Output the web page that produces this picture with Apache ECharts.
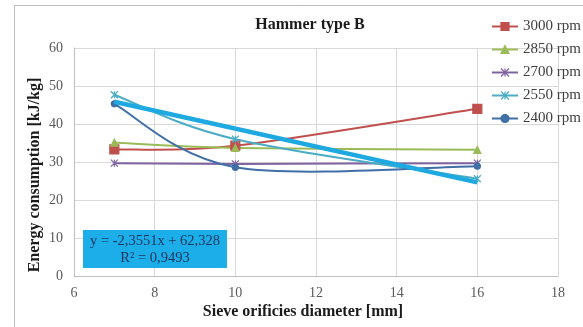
<!DOCTYPE html>
<html>
<head>
<meta charset="utf-8">
<script src="https://cdn.jsdelivr.net/npm/echarts@6/dist/echarts.min.js"></script>
<style>
  html, body { margin: 0; padding: 0; background: #fff; }
  #chart { width: 583px; height: 327px; }
</style>
</head>
<body>
<div id="chart"></div>
<script>
// Sieve orifice diameters [mm] and energy consumption [kJ/kg] per rotor speed
const sieveDiameter = [7, 10, 16];
const rpm3000 = [33.3, 34.3, 44.0];
const rpm2850 = [35.1, 33.7, 33.2];
const rpm2700 = [29.7, 29.5, 29.7];
const rpm2550 = [47.7, 36.0, 25.6];
const rpm2400 = [45.3, 28.6, 28.9];

// Linear trend for the 2550 rpm series, as stated on the chart
const trendSlope = -2.3551;
const trendIntercept = 62.328;
const trendR2 = 0.9493;
const trendRange = [7, 16];

const xTicks = [6, 8, 10, 12, 14, 16, 18];
const yTicks = [0, 10, 20, 30, 40, 50, 60];

const serif = 'Liberation Serif';
const pairs = ys => sieveDiameter.map((x, i) => [x, ys[i]]);
const fmt = (v, d) => v.toFixed(d).replace('.', ',');
const crossPath = 'path://M0,0L10,10M10,0L0,10M5,0L5,10';

const seriesDefs = [
  { name: '3000 rpm', ys: rpm3000, color: '#c0504d', symbol: 'rect', size: 9 },
  { name: '2850 rpm', ys: rpm2850, color: '#9bbb59', symbol: 'triangle', size: 7 },
  { name: '2700 rpm', ys: rpm2700, color: '#8064a2', symbol: crossPath, size: 7 },
  { name: '2550 rpm', ys: rpm2550, color: '#4bacc6', symbol: crossPath, size: 7 },
  { name: '2400 rpm', ys: rpm2400, color: '#3f6fa6', symbol: 'circle', size: 6 }
];

// Cardinal-spline (Catmull-Rom) curve through the mapped points, drawn as cubic Beziers
function smoothCurve(def) {
  return {
    name: def.name + ' (curve)', type: 'custom', data: pairs(def.ys), z: 2, silent: true, clip: true,
    renderItem(params, api) {
      if (params.dataIndex !== 0) return null;
      const p = sieveDiameter.map((x, i) => api.coord([x, def.ys[i]]));
      const n = p.length;
      const children = [];
      for (let i = 0; i < n - 1; i++) {
        const p0 = p[Math.max(i - 1, 0)], p1 = p[i], p2 = p[i + 1], p3 = p[Math.min(i + 2, n - 1)];
        children.push({
          type: 'bezierCurve',
          shape: {
            x1: p1[0], y1: p1[1], x2: p2[0], y2: p2[1],
            cpx1: p1[0] + (p2[0] - p0[0]) / 6, cpy1: p1[1] + (p2[1] - p0[1]) / 6,
            cpx2: p2[0] - (p3[0] - p1[0]) / 6, cpy2: p2[1] - (p3[1] - p1[1]) / 6
          },
          style: { stroke: def.color, lineWidth: 2, fill: null }
        });
      }
      return { type: 'group', children };
    }
  };
}

// Markers (and legend entries) for each rotor speed
function markers(def) {
  return {
    name: def.name, type: 'line', data: pairs(def.ys),
    symbol: def.symbol, symbolSize: def.size, showSymbol: true,
    lineStyle: { color: def.color, width: 2, opacity: 0 },
    itemStyle: { color: def.color, borderColor: def.color, borderWidth: 1.2 },
    emphasis: { disabled: true }, z: 3
  };
}

const chart = echarts.init(document.getElementById('chart'), null, { renderer: 'canvas' });
chart.setOption({
  animation: false,
  backgroundColor: '#fff',
  title: {
    text: 'Hammer type B', left: 305, top: 12, textAlign: 'center',
    textStyle: { fontFamily: serif, fontWeight: 'bold', fontSize: 16, color: '#1a1a1a' }
  },
  legend: {
    orient: 'vertical', left: 486, top: 14, itemWidth: 26, itemHeight: 10, itemGap: 8,
    textStyle: { fontFamily: serif, fontSize: 15, color: '#404040' },
    data: seriesDefs.map(d => ({
      name: d.name,
      lineStyle: { color: d.color, width: 2, opacity: 1 },
      itemStyle: { color: d.color, borderColor: d.color, borderWidth: 1.2 }
    }))
  },
  grid: { left: 74, right: 25, top: 48, bottom: 51 },
  xAxis: {
    type: 'value', min: xTicks[0], max: xTicks[xTicks.length - 1], interval: 2,
    axisLine: { show: true, lineStyle: { color: '#bfbfbf' } },
    axisTick: { show: false },
    splitLine: { show: true, lineStyle: { color: '#d9d9d9' } },
    axisLabel: { fontFamily: serif, fontSize: 14, color: '#595959', margin: 10 }
  },
  yAxis: {
    type: 'value', min: yTicks[0], max: yTicks[yTicks.length - 1], interval: 10,
    axisLine: { show: true, lineStyle: { color: '#bfbfbf' } },
    axisTick: { show: false },
    splitLine: { show: true, lineStyle: { color: '#d9d9d9' } },
    axisLabel: { fontFamily: serif, fontSize: 14, color: '#595959', margin: 11 }
  },
  series: [
    ...seriesDefs.map(smoothCurve),
    ...seriesDefs.map(markers),
    {
      name: 'trend', type: 'line', symbol: 'none', z: 4,
      data: trendRange.map(x => [x, trendSlope * x + trendIntercept]),
      lineStyle: { color: '#1ea9e1', width: 4.5 },
      emphasis: { disabled: true }
    }
  ],
  graphic: [
    { type: 'rect', left: 12, top: 3, shape: { width: 600, height: 340 },
      style: { fill: 'none', stroke: '#bdbdbd', lineWidth: 1 }, silent: true },
    { type: 'text', x: 35, y: 175, rotation: Math.PI / 2,
      style: { text: 'Energy consumption [kJ/kg]', fontFamily: serif, fontWeight: 'bold',
               fontSize: 16, fill: '#1a1a1a', align: 'center', verticalAlign: 'middle' } },
    { type: 'text', x: 303, y: 312,
      style: { text: 'Sieve orificies diameter [mm]', fontFamily: serif, fontWeight: 'bold',
               fontSize: 16, fill: '#1a1a1a', align: 'center', verticalAlign: 'middle' } },
    { type: 'rect', x: 83, y: 230, z: 10, shape: { width: 144, height: 38 },
      style: { fill: '#1baee8' } },
    { type: 'text', x: 155, y: 241, z: 11,
      style: { text: 'y = ' + fmt(trendSlope, 4) + 'x + ' + fmt(trendIntercept, 3),
               fontFamily: serif, fontSize: 14.5, fill: '#1f3560', align: 'center', verticalAlign: 'middle' } },
    { type: 'text', x: 155, y: 258, z: 11,
      style: { text: 'R² = ' + fmt(trendR2, 4),
               fontFamily: serif, fontSize: 14.5, fill: '#1f3560', align: 'center', verticalAlign: 'middle' } }
  ]
});
</script>
</body>
</html>
